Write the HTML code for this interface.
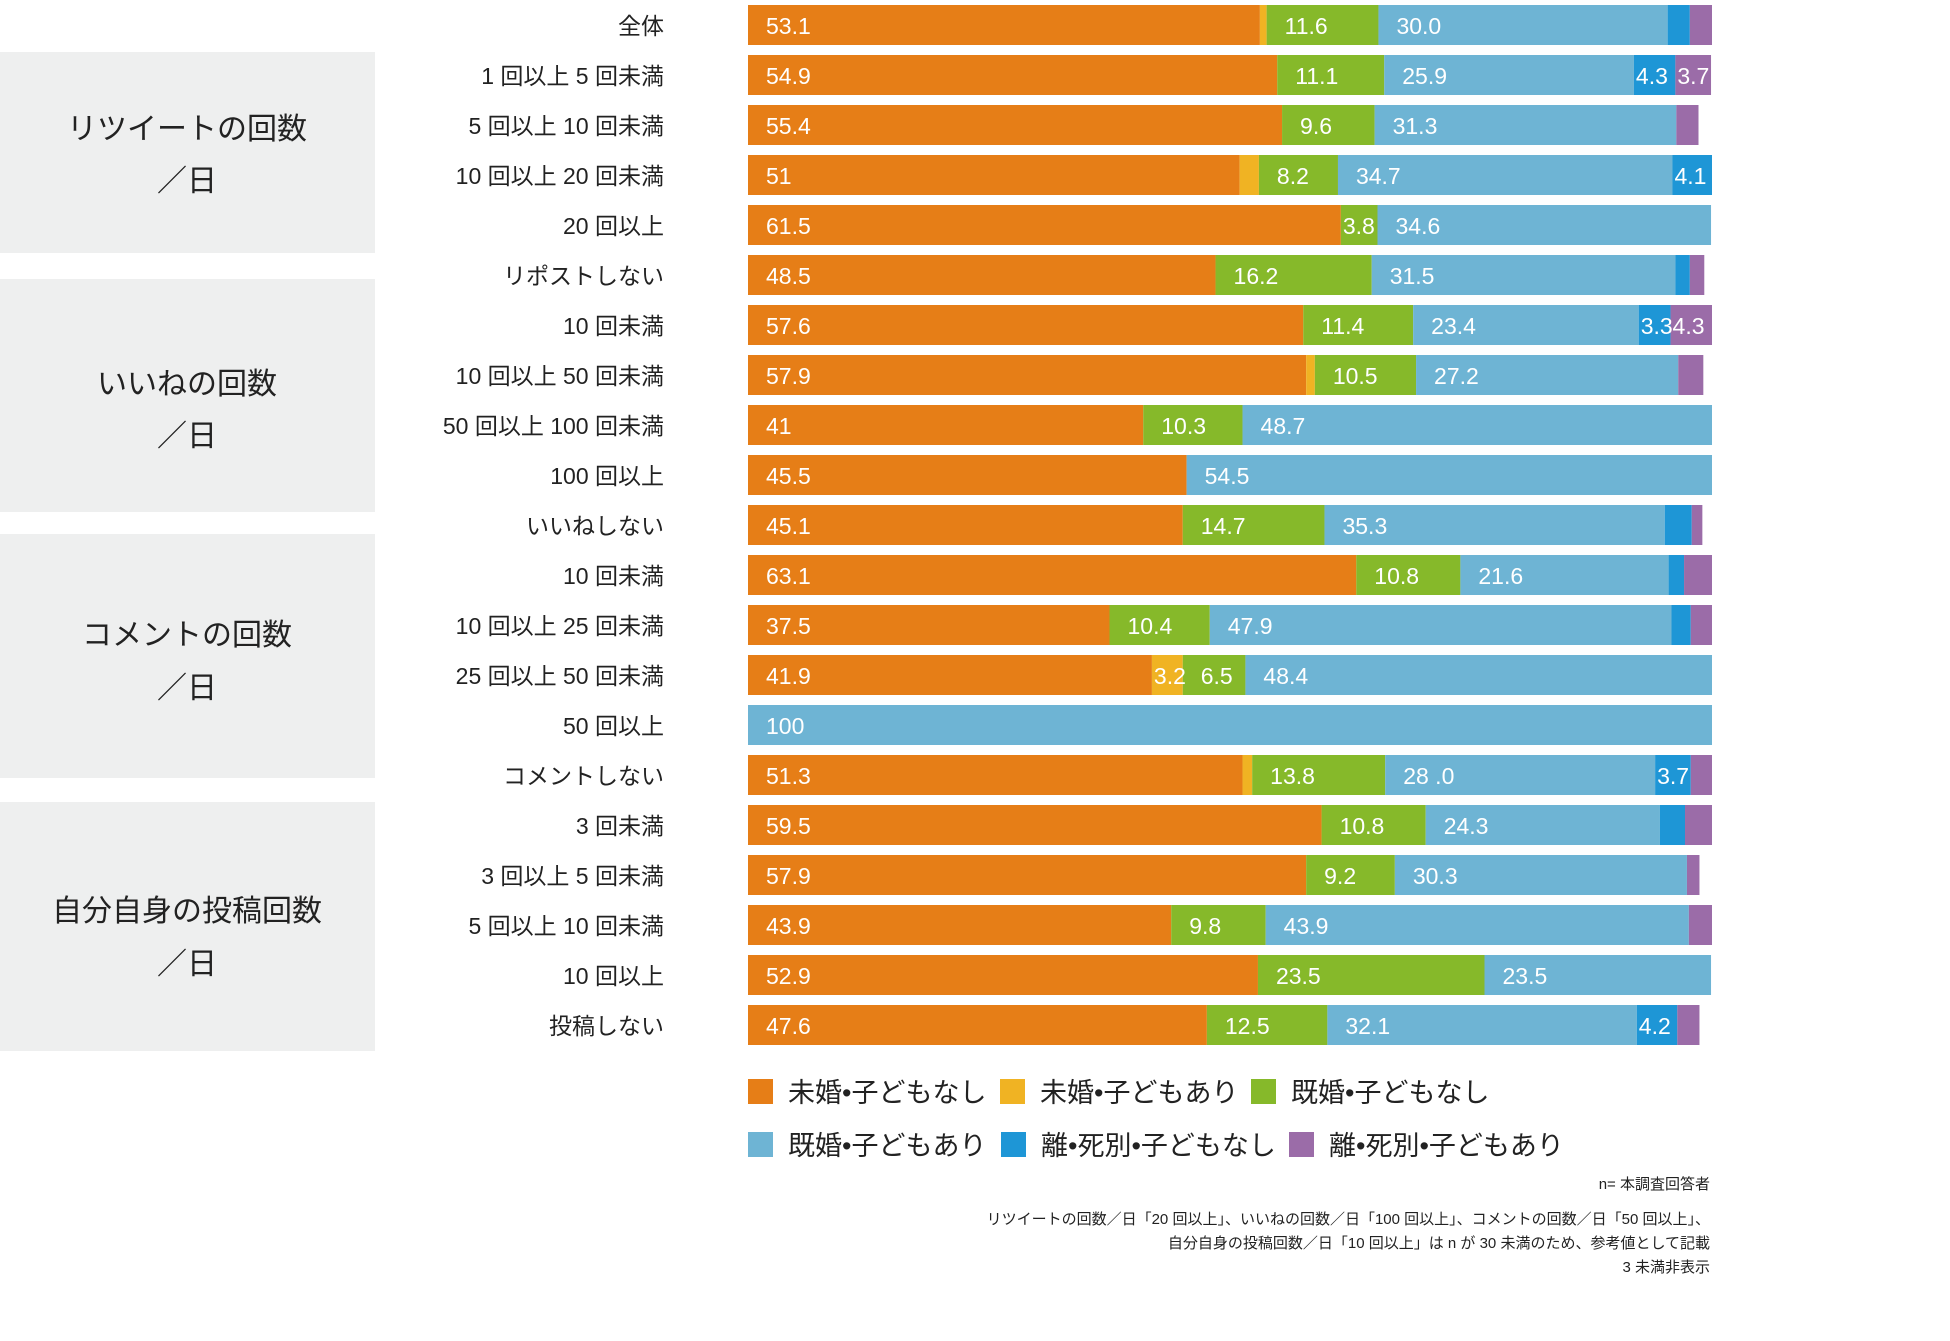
<!DOCTYPE html>
<html><head><meta charset="utf-8"><style>
body{margin:0;background:#fff;width:1950px;height:1336px;overflow:hidden;font-family:"Liberation Sans","Noto Sans CJK JP",sans-serif}
</style></head><body>
<svg id="chart" width="1950" height="1336" xmlns="http://www.w3.org/2000/svg" font-family="Liberation Sans, Noto Sans CJK JP, sans-serif"></svg>
<script>
const categories=["全体","1 回以上 5 回未満","5 回以上 10 回未満","10 回以上 20 回未満","20 回以上","リポストしない","10 回未満","10 回以上 50 回未満","50 回以上 100 回未満","100 回以上","いいねしない","10 回未満","10 回以上 25 回未満","25 回以上 50 回未満","50 回以上","コメントしない","3 回未満","3 回以上 5 回未満","5 回以上 10 回未満","10 回以上","投稿しない"];
const unmarriedNoKids=[53.1,54.9,55.4,51,61.5,48.5,57.6,57.9,41,45.5,45.1,63.1,37.5,41.9,0,51.3,59.5,57.9,43.9,52.9,47.6];
const unmarriedKids=[0.7,0,0,2.0,0,0,0,0.9,0,0,0,0,0,3.2,0,1.0,0,0,0,0,0];
const marriedNoKids=[11.6,11.1,9.6,8.2,3.8,16.2,11.4,10.5,10.3,0,14.7,10.8,10.4,6.5,0,13.8,10.8,9.2,9.8,23.5,12.5];
const marriedKids=[30.0,25.9,31.3,34.7,34.6,31.5,23.4,27.2,48.7,54.5,35.3,21.6,47.9,48.4,100,28.0,24.3,30.3,43.9,23.5,32.1];
const divorcedNoKids=[2.3,4.3,0,4.1,0,1.5,3.3,0,0,0,2.8,1.6,2.0,0,0,3.7,2.6,0,0,0,4.2];
const divorcedKids=[2.3,3.7,2.3,0,0,1.5,4.3,2.6,0,0,1.1,2.9,2.2,0,0,2.2,2.8,1.3,2.4,0,2.3];
const printedLabels=[
["53.1","54.9","55.4","51","61.5","48.5","57.6","57.9","41","45.5","45.1","63.1","37.5","41.9","","51.3","59.5","57.9","43.9","52.9","47.6"],
["","","","","","","","","","","","","","3.2","","","","","","",""],
["11.6","11.1","9.6","8.2","3.8","16.2","11.4","10.5","10.3","","14.7","10.8","10.4","6.5","","13.8","10.8","9.2","9.8","23.5","12.5"],
["30.0","25.9","31.3","34.7","34.6","31.5","23.4","27.2","48.7","54.5","35.3","21.6","47.9","48.4","100","28 .0","24.3","30.3","43.9","23.5","32.1"],
["","4.3","","4.1","","","3.3","","","","","","","","","3.7","","","","","4.2"],
["","3.7","","","","","4.3","","","","","","","","","","","","","",""]];
const seriesNames=["未婚•子どもなし","未婚•子どもあり","既婚•子どもなし","既婚•子どもあり","離•死別•子どもなし","離•死別•子どもあり"];
const colors=["#e67e17","#f0b323","#86b92a","#6eb4d4","#1e96d6","#9b6ca8"];
const series=[unmarriedNoKids,unmarriedKids,marriedNoKids,marriedKids,divorcedNoKids,divorcedKids];
const groups=[["リツイートの回数","／日"],["いいねの回数","／日"],["コメントの回数","／日"],["自分自身の投稿回数","／日"]];
const groupBoxes=[[52,201],[279,233],[534,244],[802,249]];
const groupBaselines=[[139,191],[394,446],[645,698],[921,974]];
const svg=document.getElementById('chart');
const NS="http://www.w3.org/2000/svg";
function mk(t,a,txt){const e=document.createElementNS(NS,t);for(const k in a)e.setAttribute(k,a[k]);if(txt!==undefined)e.textContent=txt;svg.appendChild(e);return e;}
const X0=748,W=964;
const xs=v=>v*W/100;
const yRow=i=>5+50*i;
groups.forEach((g,i)=>{
 const [y,h]=groupBoxes[i];
 const r=mk('rect',{x:0,y:y,width:375,height:h,fill:'#eeefef'});
 
 
 const t1=mk('text',{x:187,y:groupBaselines[i][0],'text-anchor':'middle','font-size':30,fill:'#222'},g[0]);
 
 
 const t2=mk('text',{x:187,y:groupBaselines[i][1],'text-anchor':'middle','font-size':30,fill:'#222'},g[1]);
 
 
});
const labelQueue=[];
categories.forEach((c,i)=>{
 const y=yRow(i);
 const t=mk('text',{x:664,y:y+29,'text-anchor':'end','font-size':23,fill:'#222'},c);
 
 
 let acc=0;
 series.forEach((s,k)=>{
  const v=s[i];
  if(v>0){
   const r=mk('rect',{x:X0+xs(acc),y:y,width:xs(v),height:40,fill:colors[k]});
   
   
   const lab=printedLabels[k][i];
   if(lab){
    const pad=(k>=4||v<6)?2:18;
    labelQueue.push([X0+xs(acc)+pad,y+29,lab]);
   }
  }
  acc+=v;
 });
});
labelQueue.forEach(([x,y,lab])=>{
 const tt=mk('text',{x:x,y:y,'font-size':23,fill:'#fff'},lab);
 
 
});
const legPos=[[748,1091],[1000,1091],[1251,1091],[748,1144],[1001,1144],[1289,1144]];
seriesNames.forEach((n,k)=>{
 const [x,y]=legPos[k];
 const r=mk('rect',{x:x,y:y-12,width:25,height:25,fill:colors[k]});
 
 
 const t=mk('text',{x:x+40,y:y+11,'font-size':27,fill:'#222'},n);
 
 
});
const notes=[["n= 本調査回答者",1189],["リツイートの回数／日「20 回以上」、いいねの回数／日「100 回以上」、コメントの回数／日「50 回以上」、",1224],["自分自身の投稿回数／日「10 回以上」は n が 30 未満のため、参考値として記載",1248],["3 未満非表示",1272]];
notes.forEach(([s,y])=>{
 const t=mk('text',{x:1710,y:y,'text-anchor':'end','font-size':15,fill:'#222'},s);
 
 
});
</script>
</body></html>
